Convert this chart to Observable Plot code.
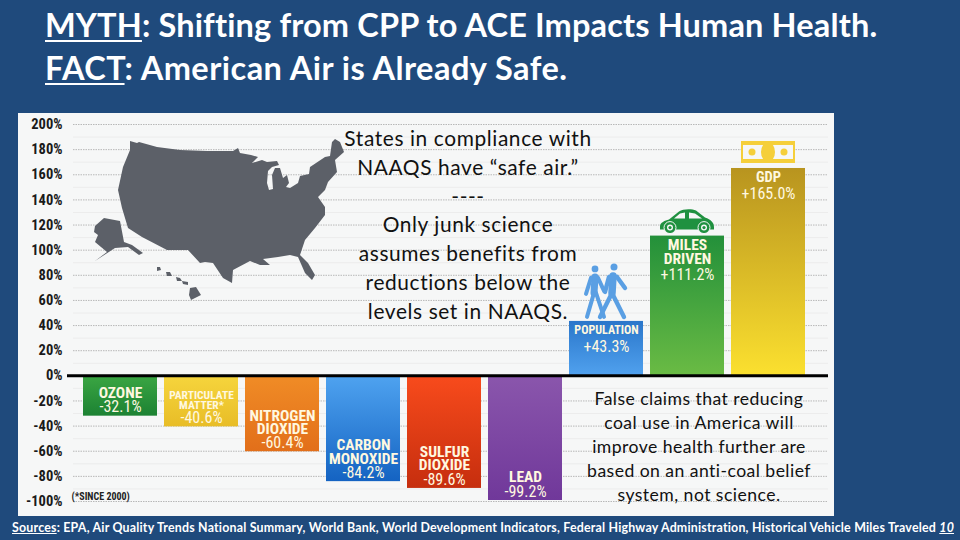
<!DOCTYPE html>
<html>
<head>
<meta charset="utf-8">
<script src="https://cdn.jsdelivr.net/npm/d3@7"></script>
<script src="https://cdn.jsdelivr.net/npm/@observablehq/plot@0.6"></script>
<style>
html,body{margin:0;padding:0;width:960px;height:540px;overflow:hidden;background:#1f4a7c;}
#page{position:relative;width:960px;height:540px;background:#1f4a7c;font-family:Lato,"Noto Sans",sans-serif;}
#title{position:absolute;left:45px;top:3px;color:#fff;font-weight:700;font-size:32.5px;line-height:43px;white-space:nowrap;}
#title u{text-underline-offset:3px;text-decoration-thickness:2px;}
#chart{position:absolute;left:18px;top:113px;width:816px;height:403px;}
#chart svg{display:block;background:#f6f7f7;}
#chart text{font-stretch:75%;}
.note{position:absolute;text-align:center;color:#111;white-space:nowrap;}
#note1{left:318px;width:300px;top:124px;font-size:20.9px;line-height:28.8px;letter-spacing:.6px;}
#note2{left:549px;width:300px;top:387px;font-size:17.6px;line-height:24px;letter-spacing:.45px;}
#source{position:absolute;left:12px;top:520px;color:#fff;font-weight:700;font-size:12.4px;line-height:16px;white-space:nowrap;letter-spacing:.2px;}
</style>
</head>
<body>
<div id="page">
  <div id="title"><span style="letter-spacing:.15px"><u>MYTH</u>: Shifting from CPP to ACE Impacts Human Health.</span><br><span style="letter-spacing:.47px"><u>FACT</u>: American Air is Already Safe.</span></div>
  <div id="chart"></div>
  <div class="note" id="note1">States in compliance with<br>NAAQS have “safe air.”<br>----<br>Only junk science<br>assumes benefits from<br>reductions below the<br>levels set in NAAQS.</div>
  <div class="note" id="note2">False claims that reducing<br>coal use in America will<br>improve health further are<br>based on an anti-coal belief<br>system, not science.</div>
  <div id="source"><u>Sources</u>: EPA, Air Quality Trends National Summary, World Bank, World Development Indicators, Federal Highway Administration, Historical Vehicle Miles Traveled <u><i>10</i></u></div>
</div>
<script>
const categories = ["OZONE","PARTICULATE\nMATTER*","NITROGEN\nDIOXIDE","CARBON\nMONOXIDE","SULFUR\nDIOXIDE","LEAD","POPULATION","MILES\nDRIVEN","GDP"];
const changes = [-32.1,-40.6,-60.4,-84.2,-89.6,-99.2,43.3,111.2,165.0];
const gradientTops = ["#3ba643","#f6d53d","#f08c26","#4fa3f0","#f84b1c","#8a56ac","#2a76ca","#23903a","#b8941f"];
const gradientBottoms = ["#1c8233","#e8bd27","#e26f1a","#1463c2","#c62e0e","#70389a","#50a1ee","#6abb44","#fbe02f"];
const majorTicks = [-100,-80,-60,-40,-20,0,20,40,60,80,100,120,140,160,180,200];
const minorTicks = [-90,-70,-50,-30,-10,10,30,50,70,90,110,130,150,170,190];
const footnote = ["(*SINCE 2000)"];

// Decorative US silhouette (page pixels of the illustration)
const mainland = [[130,141],[137,143],[139,142],[157,147],[180,150],[207,151],[233,151],[238,148],[240,153],[251,155],[258,157],[252,163],[262,160],[267,162],[277,161],[279,165],[272,167],[268,171],[267,183],[269,190],[273,189],[272,175],[275,168],[280,168],[283,178],[287,175],[289,183],[286,187],[290,188],[298,183],[300,176],[309,174],[310,167],[325,157],[330,156],[332,142],[335,139],[340,142],[344,152],[335,160],[337,172],[328,182],[325,190],[318,197],[325,207],[325,215],[315,228],[305,240],[300,255],[308,263],[315,275],[312,280],[305,273],[298,257],[290,255],[278,257],[263,259],[270,265],[260,265],[250,261],[233,270],[232,283],[223,278],[213,263],[205,262],[200,263],[188,250],[167,250],[142,237],[128,228],[122,208],[118,190],[123,167],[130,150]];
const alaska = [[95,226],[104,218],[120,221],[124,242],[132,245],[143,253],[139,255],[128,247],[115,248],[95,261],[107,252],[95,242],[98,235],[94,232]];
const hawaii = [[[157,267],[160,267],[161,270],[157,271]],[[166,272],[170,272],[172,276],[167,276]],[[176,277],[180,278],[182,281],[177,281]],[[182,281],[188,282],[188,285],[183,284]],[[190,288],[196,287],[201,295],[191,300],[189,295]]];

const data = categories.map((label, i) => ({label, value: changes[i], lines: label.split("\n").length, i}));
const neg = data.filter(d => d.value < 0), pos = data.filter(d => d.value > 0);
const nameSize = d => d.label.startsWith("PARTICULATE") ? 11.5 : d.label === "POPULATION" ? 12 : d.label === "GDP" ? 14.5 : 15.5;
const fmt = v => (v > 0 ? "+" : "-") + Math.abs(v).toFixed(1) + "%";
const labelFont = "Roboto,sans-serif";
const nameOpts = {x:"label", y:"value", text:"label", fill:"#fff8e0", fontFamily:labelFont, fontWeight:700, fontSize:nameSize, lineHeight:.85};
const valOpts = {x:"label", y:"value", text:d=>fmt(d.value), fill:"#fff8e0", fontFamily:labelFont, fontSize:16, lineAnchor:"middle"};

const defs = () => {
  const g = d3.create("svg:defs");
  data.forEach(d => {
    const lg = g.append("linearGradient").attr("id","bar"+d.i).attr("x1",0).attr("x2",0).attr("y1",0).attr("y2",1);
    lg.append("stop").attr("offset",0).attr("stop-color",gradientTops[d.i]);
    lg.append("stop").attr("offset",1).attr("stop-color",gradientBottoms[d.i]);
  });
  return g.node();
};
const usMap = () => {
  const g = d3.create("svg:g").attr("transform","translate(-18,-113)").attr("fill","#5c6068");
  const line = d3.line();
  [mainland, alaska, ...hawaii].forEach(r => g.append("path").attr("d", line(r)+"Z"));
  return g.node();
};
const icons = (index, {x, y}) => {
  const g = d3.create("svg:g");
  const at = i => `translate(${x(categories[i]) + x.bandwidth()/2},${y(changes[i])})`;
  // people
  const p = g.append("g").attr("transform", at(6)).attr("fill","none").attr("stroke","#5a9fe3").attr("stroke-linecap","round").attr("stroke-linejoin","round");
  p.append("circle").attr("cx",-11).attr("cy",-52).attr("r",3.4).attr("fill","#5a9fe3").attr("stroke","none");
  p.append("circle").attr("cx",8).attr("cy",-54).attr("r",3.5).attr("fill","#5a9fe3").attr("stroke","none");
  p.append("path").attr("stroke-width",7).attr("d","M-11,-44 L-12,-28");
  p.append("path").attr("stroke-width",4).attr("d","M-12,-28 L-19,-4 M-10,-28 L-2,-4 M-15,-43 L-20,-27 M-8,-43 L-2,-30");
  p.append("path").attr("stroke-width",7.5).attr("d","M7,-45 L6,-28");
  p.append("path").attr("stroke-width",4.4).attr("d","M5,-26 L-6,-4 M7,-26 L18,-4 M3,-44 L-1,-29 M11,-44 L19,-33");
  // car
  const c = g.append("g").attr("transform", at(7));
  c.append("path").attr("fill","#1f9140").attr("d","M-27,-9 C-27,-13 -22,-15 -18,-16 L-8,-24 C-4,-27 5,-27 9,-25 L18,-18 C24,-16 27,-13 27,-8 L27,-6 L-27,-6 Z");
  c.append("path").attr("fill","#f6f7f7").attr("d","M-13,-17 L-7,-22 L-2,-23 L-2,-17 Z M2,-23 L8,-22 L15,-17 L2,-17 Z");
  [-17,17].forEach(cx => {
    c.append("circle").attr("cx",cx).attr("cy",-8).attr("r",6).attr("fill","#1f9140").attr("stroke","#f6f7f7");
    c.append("circle").attr("cx",cx).attr("cy",-8).attr("r",3).attr("fill","#f6f7f7");
    c.append("circle").attr("cx",cx).attr("cy",-8).attr("r",1.6).attr("fill","#1f9140");
  });
  // banknote
  const m = g.append("g").attr("transform", at(8));
  m.append("rect").attr("x",-27).attr("y",-27).attr("width",54).attr("height",22).attr("fill","#f5cf3a");
  m.append("rect").attr("x",-25).attr("y",-23).attr("width",50).attr("height",14).attr("fill","#f6f7f7");
  m.append("ellipse").attr("cx",0).attr("cy",-16).attr("rx",7).attr("ry",10).attr("fill","#f5cf3a");
  [-16,16].forEach(cx => m.append("circle").attr("cx",cx).attr("cy",-16).attr("r",3.5).attr("fill","#f5cf3a"));
  return g.node();
};

const chart = Plot.plot({
  width: 816, height: 403,
  marginTop: 11, marginBottom: 15, marginLeft: 60, marginRight: 24,
  style: {background:"#f6f7f7", fontFamily:labelFont, overflow:"visible"},
  x: {domain: categories, paddingInner: .09, paddingOuter: .045, axis: null},
  y: {domain: [-100,200], label: null},
  marks: [
    defs,
    Plot.ruleY(minorTicks, {stroke:"#ececec", strokeWidth:1, insetLeft:-5, insetRight:-18}),
    Plot.ruleY(majorTicks, {stroke:"#b8b8b8", strokeWidth:1, strokeDasharray:"1.5,1", insetLeft:-5, insetRight:-18}),
    usMap,
    Plot.axisY({ticks: majorTicks, tickFormat: d => d + "%", tickSize: 0, tickPadding: 16, label: null, fontSize: 14.5, fontWeight: 700, fill:"#1a1a1a"}),
    Plot.barY(data, {x:"label", y:"value", fill:d => `url(#bar${d.i})`}),
    Plot.ruleY([0], {stroke:"#000", strokeWidth:3, insetLeft:-11, insetRight:-18}),
    icons,
    Plot.text(neg, {...nameOpts, lineAnchor:"bottom", dy:-18}),
    Plot.text(neg, {...valOpts, dy:-9}),
    Plot.text(pos, {...nameOpts, lineAnchor:"top", dy:5}),
    Plot.text(pos.filter(d => d.lines === 1), {...valOpts, dy:25}),
    Plot.text(pos.filter(d => d.lines === 2), {...valOpts, dy:39}),
    Plot.text(footnote, {frameAnchor:"bottom-left", text:d=>d, fontFamily:labelFont, fontWeight:700, fontSize:10, fill:"#222", dx:-7, dy:-2})
  ]
});
document.getElementById("chart").append(chart);
</script>
</body>
</html>
